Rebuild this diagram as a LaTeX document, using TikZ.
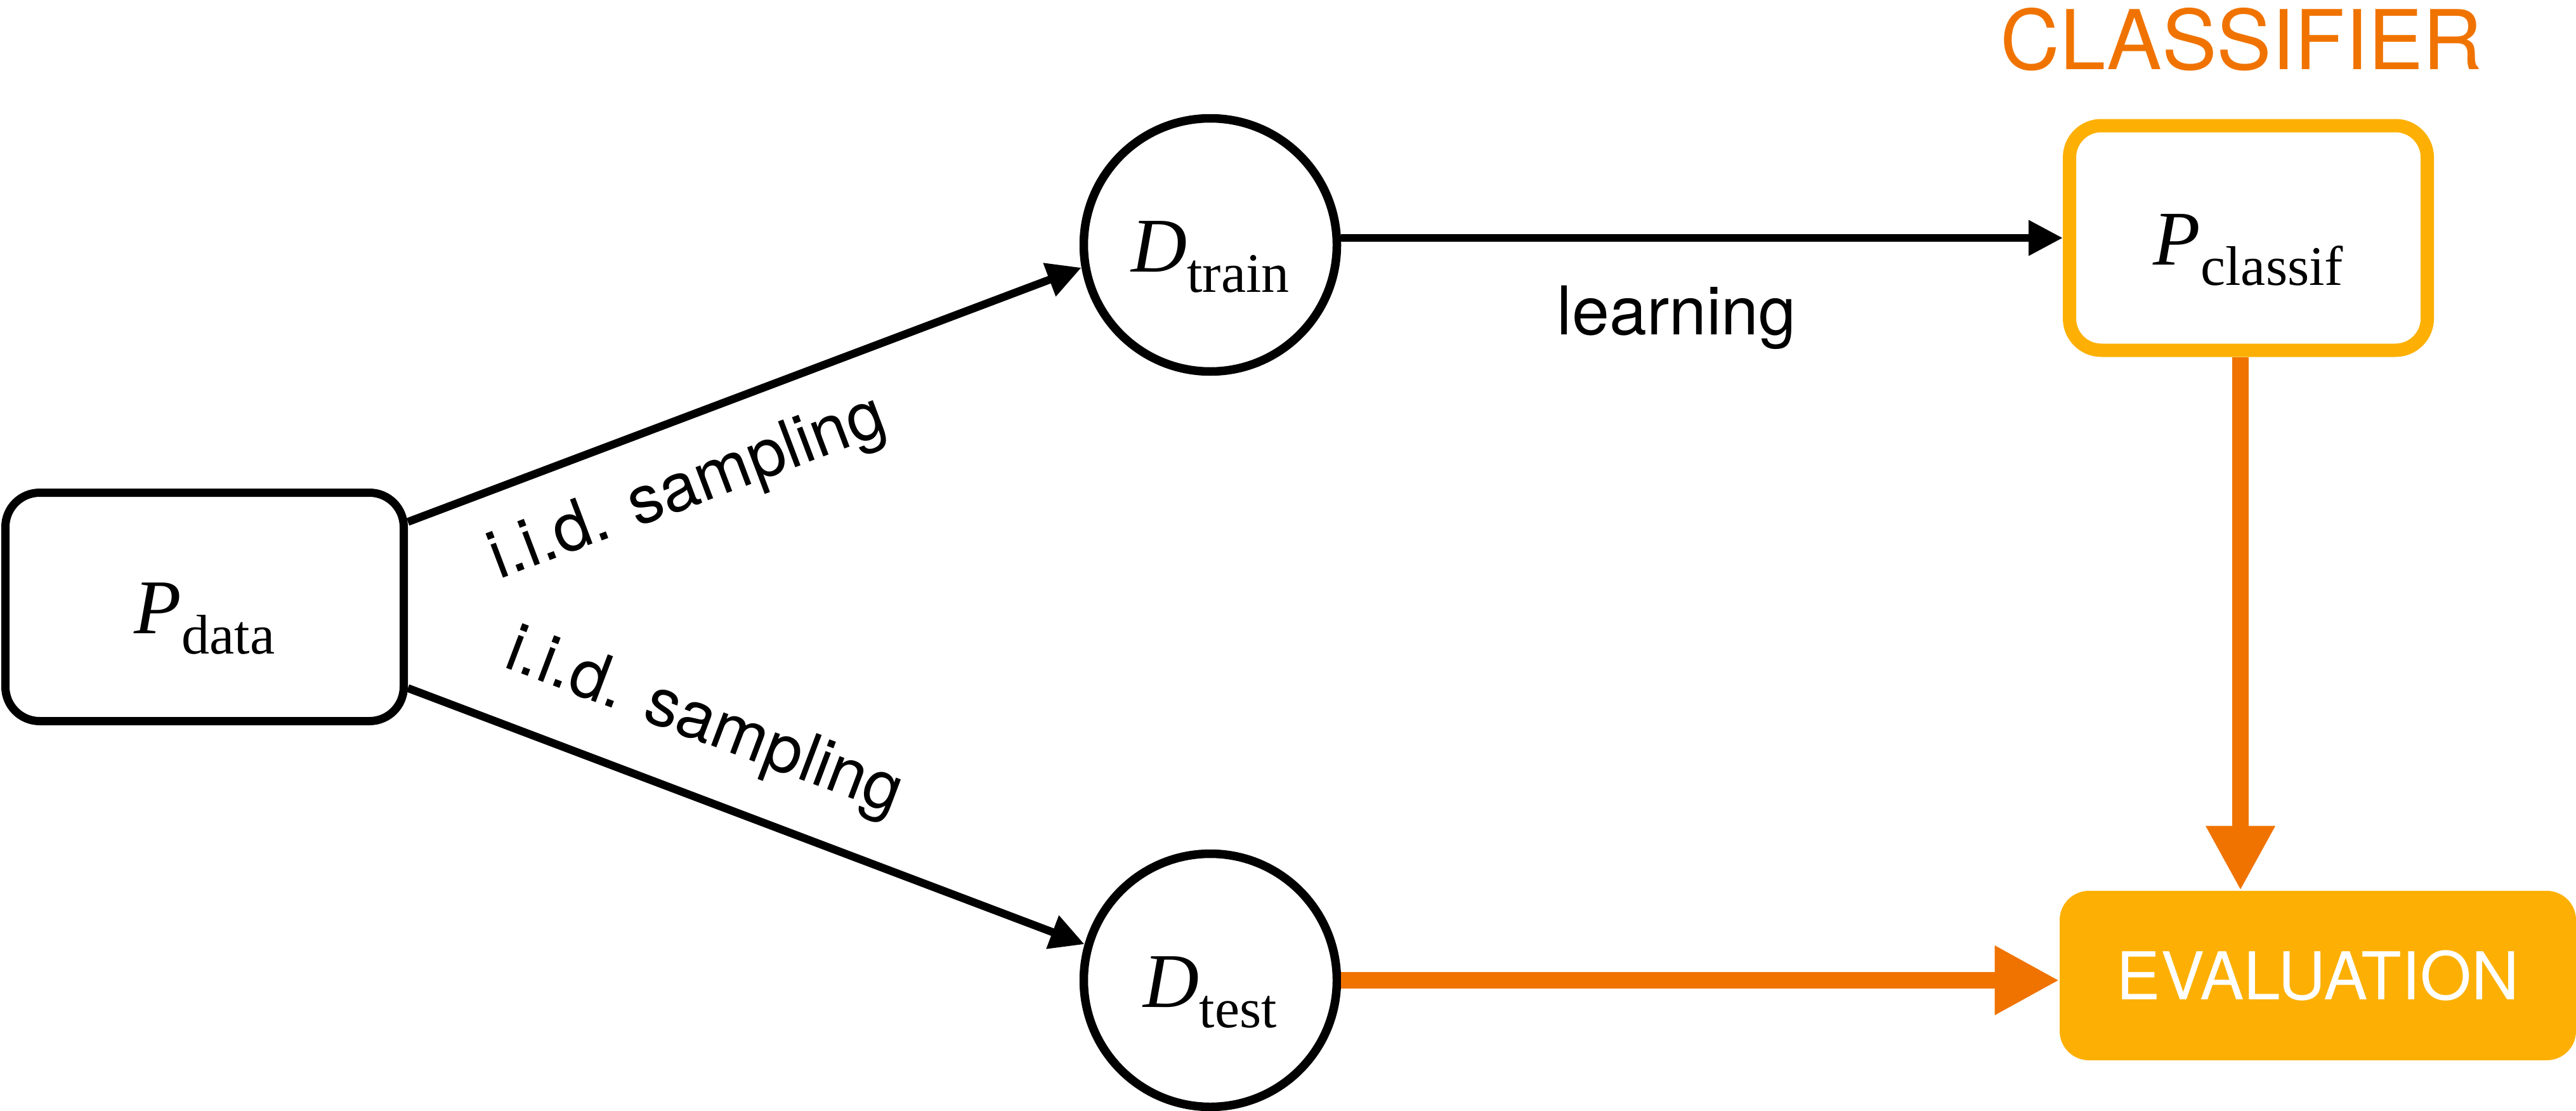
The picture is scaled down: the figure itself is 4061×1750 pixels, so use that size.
\documentclass[tikz,border=0pt]{standalone}
\usepackage{fontspec}
\setmainfont{Liberation Serif}
\newfontfamily\helv{TeX Gyre Heros}
\usetikzlibrary{arrows.meta,calc}
\definecolor{accent}{HTML}{F07300}
\definecolor{gold}{HTML}{FDB003}
% italic symbol with an upright subscript, baseline set below the node centre
\newcommand\symb[2]{\raisebox{-21pt}[0pt][0pt]{\fontsize{61pt}{61pt}\selectfont\textit{#1}\raisebox{-16pt}{\fontsize{44pt}{44pt}\selectfont #2}}}
\begin{document}
\begin{tikzpicture}[x=0.5pt, y=-0.5pt,
  box/.style={draw=black, line width=6.5pt, rounded corners=27pt, minimum width=314pt, minimum height=180pt, inner sep=0pt},
  dset/.style={draw=black, line width=6.75pt, circle, minimum size=199.5pt, inner sep=0pt},
  clf/.style={draw=gold, line width=10.5pt, rounded corners=25pt, minimum width=282pt, minimum height=177pt, inner sep=0pt},
  evalbox/.style={fill=gold, rounded corners=23pt, minimum width=407pt, minimum height=133.5pt, inner sep=0pt, text=white, font=\helv\fontsize{52pt}{52pt}\selectfont},
  flow/.style={line width=6.25pt, -{Triangle[length=27pt, width=26.5pt]}},
  result/.style={draw=accent, line width=13pt, -{Triangle[length=51pt, width=51pt]}},
  lbl/.style={font=\helv\fontsize{53pt}{53pt}\selectfont, inner sep=0pt},
  heading/.style={font=\helv\fontsize{65pt}{65pt}\selectfont, text=accent, inner sep=0pt},
]
\useasboundingbox (0,0) rectangle (4061,1750);

% distributions and data sets
\node[box] (Pdata) at (322.5,956.5) {\symb{P}{data}};
\node[dset] (Dtrain) at (1908,386) {\symb{D}{train}};
\node[dset] (Dtest) at (1908,1545) {\symb{D}{test}};
\node[clf] (Pclassif) at (3544.5,375) {\symb{P}{classif}};
\node[evalbox] (Eval) at (3654,1537.5) {EVALUATION};
\node[heading, anchor=base] (title) at (3533.5,110) {CLASSIFIER};
\coordinate (vx) at (3532,0);

% sampling and learning
\draw[flow] ([yshift=67pt]Pdata.east) -- (Dtrain.190)
  node[lbl, pos=0.38, sloped, below=26pt] {i.i.d. sampling};
\draw[flow] ([yshift=-64pt]Pdata.east) -- (Dtest.164)
  node[lbl, pos=0.40, sloped, above=27.5pt] {i.i.d. sampling};
\draw[flow] (Dtrain.east |- Pclassif.west) -- (Pclassif.west)
  node[lbl, pos=0.465, below=34.5pt] {learning};

% evaluation inputs
\draw[result] (Pclassif.south -| vx) -- (Eval.north -| vx);
\draw[result] (Dtest.east) -- (Dtest.east -| Eval.west);
\end{tikzpicture}
\end{document}
